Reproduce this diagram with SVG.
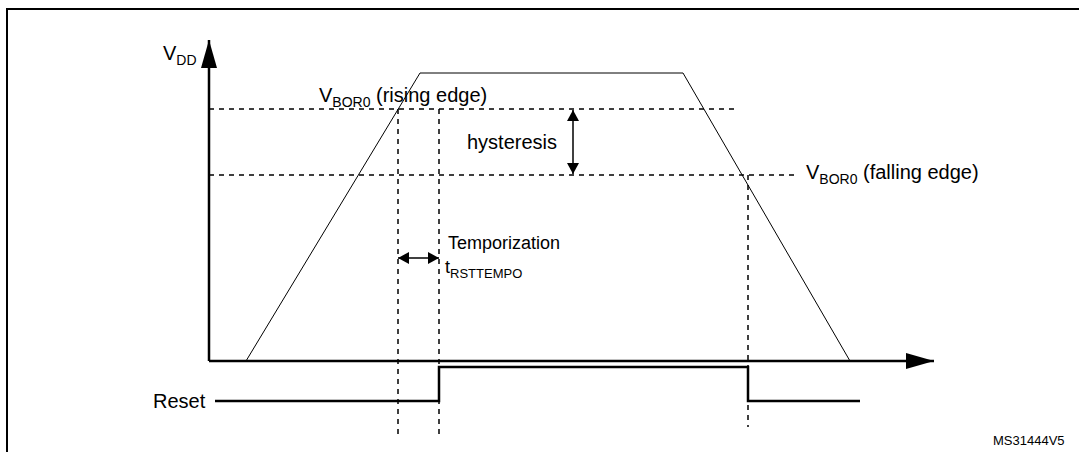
<svg xmlns="http://www.w3.org/2000/svg" width="1079" height="452" viewBox="0 0 1079 452">
<style>
text{font-family:"Liberation Sans",Arial,sans-serif;font-size:20px;fill:#000}
.sub{font-size:14px}
.d{stroke:#000;stroke-width:1.5;stroke-dasharray:5,5;fill:none}
.t{stroke:#000;stroke-width:1;fill:none}
</style>
<defs>
<marker id="ah" viewBox="0 0 10 10" refX="10" refY="5" markerWidth="11" markerHeight="12" orient="auto-start-reverse" markerUnits="userSpaceOnUse" preserveAspectRatio="none"><path d="M0,0 L10,5 L0,10 z" fill="#000"/></marker>
<marker id="big" viewBox="0 0 10 10" refX="10" refY="5" markerWidth="28" markerHeight="16" orient="auto" markerUnits="userSpaceOnUse" preserveAspectRatio="none"><path d="M0,0 L10,5 L0,10 z" fill="#000"/></marker>
</defs>
<rect x="7" y="9" width="1090" height="460" fill="none" stroke="#000" stroke-width="2"/>
<g id="axes">
<line x1="209" y1="361" x2="209" y2="40" stroke="#000" stroke-width="2.5" marker-end="url(#big)"/>
<line x1="209" y1="361" x2="934" y2="361" stroke="#000" stroke-width="2.5" marker-end="url(#big)"/>
</g>
<g id="connectors">
<polyline class="t" points="246,361 420,73 683,73 850,361"/>
<line class="d" x1="209" y1="109" x2="738" y2="109"/>
<line class="d" x1="209" y1="175" x2="797" y2="175"/>
<line class="d" x1="398" y1="109" x2="398" y2="437"/>
<line class="d" x1="439" y1="109" x2="439" y2="437"/>
<line class="d" x1="748" y1="175" x2="748" y2="427"/>
<line x1="573" y1="110" x2="573" y2="174" stroke="#000" stroke-width="1.5" marker-start="url(#ah)" marker-end="url(#ah)"/>
<line x1="398" y1="258" x2="439" y2="258" stroke="#000" stroke-width="1.5" marker-start="url(#ah)" marker-end="url(#ah)"/>
<polyline points="215,401 439,401 439,367 748,367 748,401 860,401" fill="none" stroke="#000" stroke-width="2.5"/>
</g>
<g id="labels">
<text x="163" y="60">V<tspan class="sub" dy="5">DD</tspan></text>
<text x="319" y="102">V<tspan class="sub" dy="5">BOR0</tspan><tspan dy="-5"> (rising edge)</tspan></text>
<text x="806" y="179">V<tspan class="sub" dy="5">BOR0</tspan><tspan dy="-5"> (falling edge)</tspan></text>
<text x="467" y="149">hysteresis</text>
<text x="448" y="249" style="font-size:18px">Temporization</text>
<text x="445" y="273" style="font-size:18px">t<tspan class="sub" style="font-size:13px" dy="5">RSTTEMPO</tspan></text>
<text x="153" y="408">Reset</text>
<text x="993" y="445" style="font-size:13px">MS31444V5</text>
</g>
</svg>
